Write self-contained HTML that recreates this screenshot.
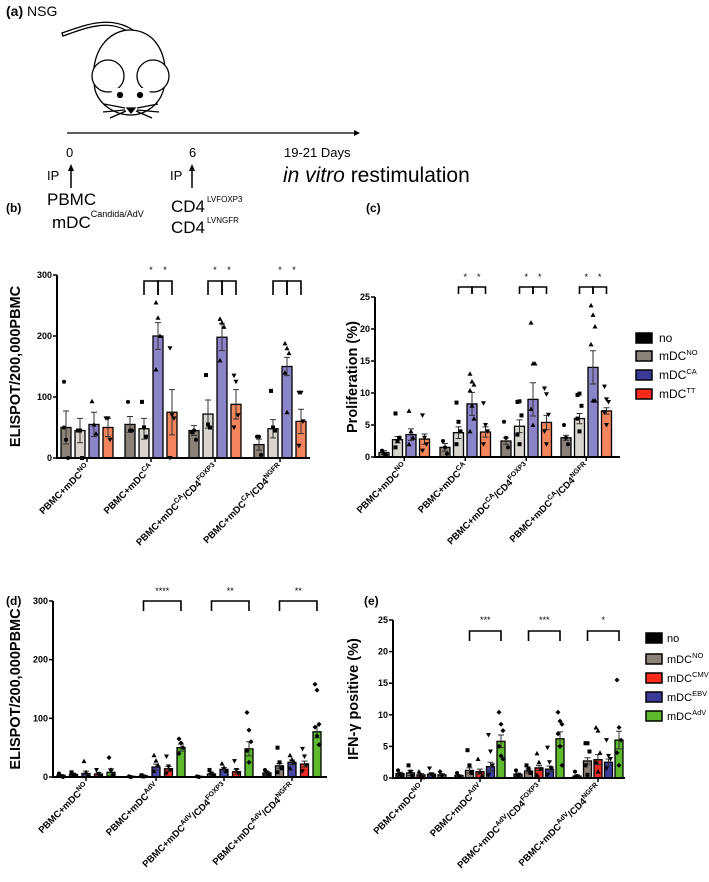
<!DOCTYPE html>
<html><head><meta charset="utf-8">
<style>
body{margin:0;background:#fff;}
svg{display:block;font-family:"Liberation Sans",sans-serif;}
.b{font-weight:bold;}
</style></head>
<body>
<svg id="fig" width="709" height="882" viewBox="0 0 709 882">
<g>
<text x="6" y="16" font-size="14"><tspan font-weight="bold">(a)</tspan> NSG</text>
<g fill="none" stroke="#000" stroke-width="1.3">
<path d="M130,33 C110,18 85,28 63,36 L62,33 C85,25 110,15 133,30" fill="#fff"/>
<path d="M95,90 C88,50 110,30 130,30 C152,30 170,50 164,88 C160,105 145,115 131,115 C116,115 100,106 95,90 Z" fill="#fff"/>
<circle cx="108" cy="76" r="16" fill="#fff"/>
<circle cx="153" cy="76" r="16" fill="#fff"/>
<path d="M110,88 C115,100 123,110 131,113 C139,110 147,100 151,88" fill="#fff" stroke="none"/>
<circle cx="120" cy="95" r="2.5" fill="#000"/>
<circle cx="140" cy="95" r="2.5" fill="#000"/>
<path d="M127,108 L135,108 L131,113 Z" fill="#000"/>
<path d="M125,108 L104,104 M125,110 L103,112 M126,111 L110,118 M137,108 L158,104 M137,110 L159,112 M136,111 L152,118"/>
</g>
<line x1="67" y1="133" x2="356" y2="133" stroke="#000" stroke-width="1.3"/>
<path d="M354,130 L360,133 L354,136 Z" fill="#000"/>
<g font-size="13">
<text x="66" y="157">0</text>
<text x="189" y="157">6</text>
<text x="284" y="157">19-21 Days</text>
<text x="47" y="180">IP</text>
<text x="170" y="180">IP</text>
</g>
<line x1="71" y1="188" x2="71" y2="170" stroke="#000" stroke-width="1.5"/><path d="M68,171 L71,164 L74,171 Z" fill="#000"/>
<line x1="192" y1="188" x2="192" y2="170" stroke="#000" stroke-width="1.5"/><path d="M189,171 L192,164 L195,171 Z" fill="#000"/>
<text x="283" y="182" font-size="21"><tspan font-style="italic">in vitro</tspan> restimulation</text>
<text x="47" y="205" font-size="17">PBMC</text>
<text x="52" y="228" font-size="17">mDC<tspan font-size="9" dy="-11">Candida/AdV</tspan></text>
<text x="171" y="212" font-size="17">CD4<tspan font-size="8" dy="-10" dx="2">LVFOXP3</tspan></text>
<text x="171" y="233" font-size="17">CD4<tspan font-size="8" dy="-10" dx="2">LVNGFR</tspan></text>
</g>
<text x="6" y="212" font-size="12" class="b">(b)</text>
<text x="366" y="212" font-size="12" class="b">(c)</text>
<text x="6" y="605" font-size="12" class="b">(d)</text>
<text x="364" y="605" font-size="12" class="b">(e)</text>
</svg>
<script>
const bCategories = ["NO","CA","CA/FOXP3","CA/NGFR"];
const bMeans = [[50,45,55,50],[55,48,200,75],[45,72,198,88],[22,48,150,60]];
const bErr = [[27,20,20,15],[13,17,22,37],[8,23,22,24],[9,15,15,20]];
const bPts = [[[125,30,0,50],[45,45,0],[93,55,40],[65,65,30]],[[92,45,45],[92,50,35],[255,230,200,145],[180,70,65,0]],[[42,45,30],[136,55,50],[228,222,215,160],[135,125,70,50]],[[35,35,5],[110,50,45],[188,180,172,140,75],[107,107,60,20]]];
const bTicks = [0,100,200,300];
const cCategories = ["NO","CA","CA/FOXP3","CA/NGFR"];
const cMeans = [[0.7,2.7,3.5,2.8],[1.5,3.8,8.3,3.9],[2.5,4.8,9.0,5.4],[3.0,6.0,14.0,7.2]];
const cErr = [[0.3,0.5,0.9,0.8],[0.6,0.9,1.8,0.8],[0.5,1.0,2.6,1.1],[0.4,0.8,2.6,0.5]];
const cPts = [[[1,0.5,0.3],[6.8,2.5,3,1.5],[7.2,4,3,2],[6.5,3,2,1]],[[2.5,1.5,0.5],[8.5,5.5,4,2],[13,11.8,11.3,10.4,8,6,4],[8.4,5,4,2]],[[5.5,3,1.5],[8.6,8.7,6.5,3.5,2],[21,14.6,14.6,7.5,5],[10.7,9.8,6.6,4,2]],[[5,3,2],[9.7,9.9,8,6,4],[23.7,22.2,20.4,17.6,8.8,8.8],[11,9,8.6,7,5]]];
const cTicks = [0,5,10,15,20,25];
const dCategories = ["NO","AdV","AdV/FOXP3","AdV/NGFR"];
const dMeans = [[3,4,6,5,8],[1,2,17,14,50],[1,5,13,9,48],[7,19,25,22,77]];
const dErr = [[1,2,4,3,6],[0.5,1,5,4,6],[0.5,2,3,4,12],[2,4,4,5,10]];
const dPts = [[[6,2,0],[8,4,2],[27,8,2],[12,5,2],[33,12,4]],[[1,0],[3,1],[37,28,20,10],[35,18,12,6],[65,58,50,40]],[[1,0],[12,6,2],[23,16,10],[27,12,6],[110,80,60,45,25]],[[12,8,4],[50,25,15,8],[37,30,25,15],[48,35,20,10],[158,148,90,85,70,55]]];
const dTicks = [0,100,200,300];
const eCategories = ["NO","AdV","AdV/FOXP3","AdV/NGFR"];
const eMeans = [[0.7,0.8,0.5,0.6,0.5],[0.4,1.2,1.0,1.8,5.8],[0.6,1.1,1.6,1.4,6.2],[0.3,2.7,2.9,2.5,6.0]];
const eErr = [[0.2,0.4,0.2,0.2,0.2],[0.1,0.4,0.4,0.7,1.0],[0.2,0.3,0.4,0.5,1.1],[0.2,0.5,0.8,0.5,1.4]];
const ePts = [[[1.2,0.6,0.2],[2,1,0.3],[1,0.5,0.1],[1.5,0.6,0.2],[1,0.4]],[[0.8,0.3],[4.4,2,0.8],[3,1,0.3],[6.8,4.2,2,0.5],[10.4,8.5,7.5,5,3.5,3]],[[1.2,0.4],[2,1.5,0.8],[3.9,2.5,1.5,0.5],[4.8,2.5,1.5,0.5],[10.4,9,8.5,7,5,2]],[[1,0.3],[5.5,5.5,4.2,2,0.5],[8,7.5,4,2.5,1],[6,3.5,3,1.5],[15.5,8,6,4,2]]];
const eTicks = [0,5,10,15,20,25];

const NS = "http://www.w3.org/2000/svg";
const svg = document.getElementById('fig');
function mk(tag, attrs, parent){const el=document.createElementNS(NS,tag);for(const k in attrs)el.setAttribute(k,attrs[k]);(parent||svg).appendChild(el);return el;}

function marker(g, shape, x, y){
  let el;
  if(shape===0) el=mk('circle',{cx:x,cy:y,r:2},g);
  else if(shape===1) el=mk('rect',{x:x-2,y:y-2,width:4,height:4},g);
  else if(shape===2) el=mk('path',{d:`M${x},${y-2.5} L${x+2.5},${y+2} L${x-2.5},${y+2} Z`},g);
  else if(shape===3) el=mk('path',{d:`M${x},${y+2.5} L${x+2.5},${y-2} L${x-2.5},${y-2} Z`},g);
  else el=mk('path',{d:`M${x},${y-2.5} L${x+2.5},${y} L${x},${y+2.5} L${x-2.5},${y} Z`},g);
  el.setAttribute('fill','#000');
  
  
}

function labelText(g, x, y, cat){
  const t = mk('text',{x:x,y:y,'font-size':9.5,'font-weight':'bold','text-anchor':'end',transform:`rotate(-45 ${x} ${y})`},g);
  
  
  const parts = cat.split('/');
  const s1 = mk('tspan',{},t); s1.textContent='PBMC+mDC';
  const s2 = mk('tspan',{'font-size':7,dy:-4},t); s2.textContent=parts[0];
  if(parts.length>1){
    const s3 = mk('tspan',{dy:4},t); s3.textContent='/CD4';
    const s4 = mk('tspan',{'font-size':7,dy:-4},t); s4.textContent=parts[1];
  }
  const s5 = mk('tspan',{dy:4,'font-size':1},t); s5.textContent=' ';
}

function panel(cfg){
  const g = mk('g',{});
  
  
  const y = v => cfg.base - v/cfg.max*(cfg.base-cfg.top);
  const bx = (gi,bi) => cfg.starts[gi] + bi*cfg.step;
  cfg.means.forEach((grp,gi)=>{
    grp.forEach((v,bi)=>{
      const x = bx(gi,bi);
      const r = mk('rect',{x:x-cfg.bw/2,y:y(v),width:cfg.bw,height:cfg.base-y(v),fill:cfg.colors[bi],stroke:'#000','stroke-width':1.3},g);
      
      
      const e = cfg.err[gi][bi];
      const eb = mk('path',{d:`M${x},${y(v-e)} L${x},${y(v+e)} M${x-3},${y(v+e)} L${x+3},${y(v+e)} M${x-3},${y(v-e)} L${x+3},${y(v-e)}`,stroke:'#333','stroke-width':1,fill:'none'},g);
      
      
      cfg.pts[gi][bi].forEach((p,pi)=>{
        marker(g, bi%5, x + ((pi%3)-1)*2, y(p));
      });
    });
  });
  const ax = mk('path',{d:`M${cfg.x0},${cfg.top} L${cfg.x0},${cfg.base} L${cfg.x1},${cfg.base}`,stroke:'#000','stroke-width':2,fill:'none'},g);
  
  
  cfg.ticks.forEach(t=>{
    mk('line',{x1:cfg.x0-4,x2:cfg.x0,y1:y(t),y2:y(t),stroke:'#000','stroke-width':1.5},g);
    const tl = mk('text',{x:cfg.x0-5,y:y(t)+3,'font-size':9,'font-weight':'bold','text-anchor':'end'},g);
    tl.textContent = t;
    
    
  });
  cfg.categories.forEach((c,gi)=>{
    const n = cfg.means[gi].length;
    const cx = (bx(gi,0)+bx(gi,n-1))/2;
    mk('line',{x1:cx,x2:cx,y1:cfg.base,y2:cfg.base+4,stroke:'#000','stroke-width':1.5},g);
    labelText(g, cx+3, cfg.base+10, c);
  });
  const yt = mk('text',{x:cfg.ytX,y:(cfg.base+cfg.top)/2,'font-size':14.5,'font-weight':'bold','text-anchor':'middle',transform:`rotate(-90 ${cfg.ytX} ${(cfg.base+cfg.top)/2})`},g);
  yt.textContent = cfg.ytitle;
  
  
  cfg.brackets.forEach(br=>{
    const xa = bx(br[0],br[1]), xb = bx(br[0],br[2]);
    const p = mk('path',{d:`M${xa},${cfg.brB} L${xa},${cfg.brT} L${xb},${cfg.brT} L${xb},${cfg.brB}`,stroke:'#000','stroke-width':1.6,fill:'none'},g);
    
    
    const s = mk('text',{x:(xa+xb)/2,y:cfg.starY,'font-size':9,'text-anchor':'middle'},g);
    s.textContent = br[3];
    
    
  });
  if(cfg.legend){
    cfg.legend.forEach((l,i)=>{
      const ly = cfg.legY[i];
      const r = mk('rect',{x:cfg.legX,y:ly-5,width:16,height:10,fill:l[0],stroke:'#000','stroke-width':1.5},g);
      
      
      const t = mk('text',{x:cfg.legX+cfg.legGap,y:ly+4,'font-size':cfg.legFont},g);
      
      
      const a = mk('tspan',{},t); a.textContent = l[1];
      if(l[2]){ const b = mk('tspan',{'font-size':7.5,dy:-5},t); b.textContent = l[2]; }
    });
  }
}

const cB = ['#8a8179','#d8d5ce','#8c84c8','#f4845c'];
panel({id:'b',name:'panel-b-elispot-chart',categories:bCategories,means:bMeans,err:bErr,pts:bPts,ticks:bTicks,
  max:300,base:458,top:275,x0:57,x1:310,starts:[66,130,194,259],step:14,bw:10,colors:cB,ytX:20,ytitle:'ELISPOT/200,000PBMC',
  brackets:[[1,1,2,'*'],[1,2,3,'*'],[2,1,2,'*'],[2,2,3,'*'],[3,1,2,'*'],[3,2,3,'*']],brT:281,brB:295,starY:273});
panel({id:'c',name:'panel-c-proliferation-chart',categories:cCategories,means:cMeans,err:cErr,pts:cPts,ticks:cTicks,
  max:25,base:457,top:297,x0:375,x1:620,starts:[384,445,506,566],step:13.5,bw:10,colors:cB,ytX:357,ytitle:'Proliferation (%)',
  brackets:[[1,1,2,'*'],[1,2,3,'*'],[2,1,2,'*'],[2,2,3,'*'],[3,1,2,'*'],[3,2,3,'*']],brT:287,brB:294,starY:280,
  legend:[['#000','no'],['#8a8179','mDC','NO'],['#3c3b9a','mDC','CA'],['#ff2a1a','mDC','TT']],legX:636,legGap:23,legFont:12,legY:[338,356,375,394]});
const cD = ['#222','#8a8179','#4b48a8','#ee2a24','#5dba2c'];
const cE = ['#222','#8a8179','#ee2a24','#3c3b9a','#5dba2c'];
panel({id:'d',name:'panel-d-elispot-chart',categories:dCategories,means:dMeans,err:dErr,pts:dPts,ticks:dTicks,
  max:300,base:777,top:601,x0:53,x1:327,starts:[61,131,199,267],step:12.5,bw:8,colors:cD,ytX:20,ytitle:'ELISPOT/200,000PBMC',
  brackets:[[1,1,4,'****'],[2,1,4,'**'],[3,1,4,'**']],brT:601,brB:611,starY:594});
panel({id:'e',name:'panel-e-ifng-chart',categories:eCategories,means:eMeans,err:eErr,pts:ePts,ticks:eTicks,
  max:25,base:778,top:620,x0:393,x1:625,starts:[400,459,518,577],step:10.5,bw:8,colors:cE,ytX:358,ytitle:'IFN-\u03B3 positive (%)',
  brackets:[[1,1,4,'***'],[2,1,4,'***'],[3,1,4,'*']],brT:631,brB:641,starY:623,
  legend:[['#000','no'],['#8a8179','mDC','NO'],['#ff2a1a','mDC','CMV'],['#3c3b9a','mDC','EBV'],['#5dba2c','mDC','AdV']],legX:646,legGap:21,legFont:11,legY:[638,659,678,697,716]});
</script>
</body></html>
